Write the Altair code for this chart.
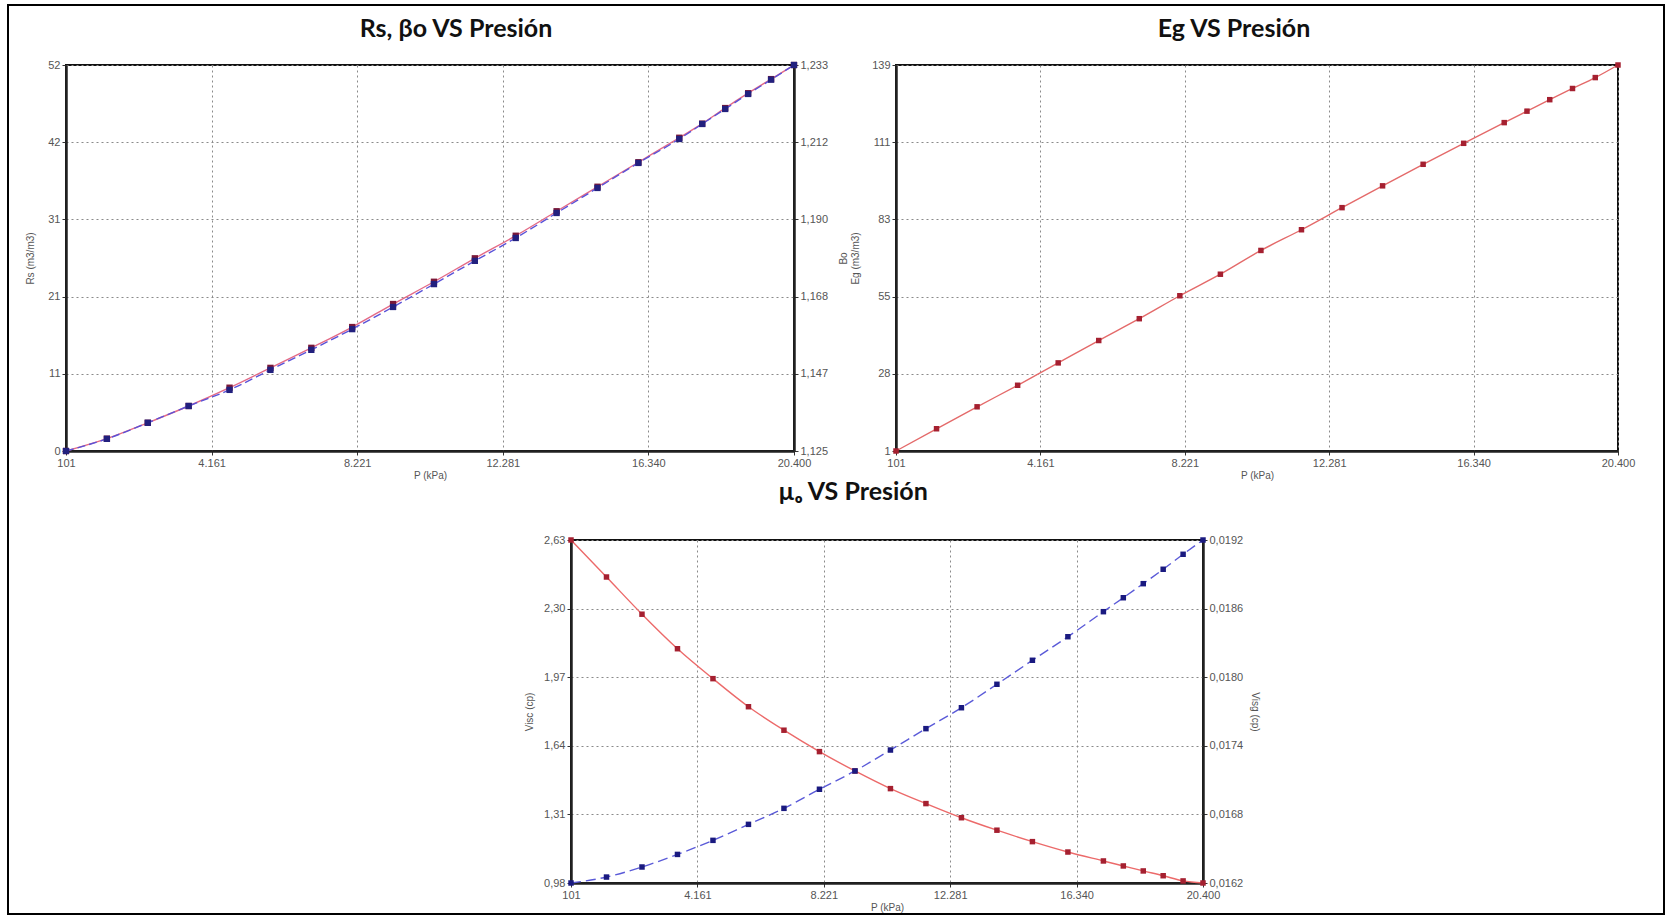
import json
import altair as alt
import pandas as pd

# ---------------- data ----------------
P = [101, 1241, 2381, 3521, 4661, 5801, 6941, 8081, 9221, 10361, 11501,
     12641, 13781, 14921, 16061, 17201, 17841, 18481, 19121, 19761, 20400]
Rs = [0, 1.66, 3.8, 6.06, 8.53, 11.2, 13.9, 16.7, 19.8, 22.8, 25.96,
      29.0, 32.3, 35.6, 38.9, 42.2, 44.1, 46.2, 48.2, 50.1, 52.0]
Bo = [1.125, 1.1284, 1.1329, 1.1376, 1.1421, 1.1477, 1.1533, 1.1591, 1.1653, 1.1717, 1.1782,
      1.1846, 1.1916, 1.1986, 1.2056, 1.2123, 1.2165, 1.2207, 1.2249, 1.2289, 1.233]
Eg = [1, 8.95, 16.8, 24.5, 32.5, 40.5, 48.3, 56.5, 64.2, 72.7, 80.1,
      88.0, 95.8, 103.5, 111.0, 118.4, 122.5, 126.6, 130.6, 134.5, 139]
Visc_o = [2.63, 2.452, 2.273, 2.107, 1.963, 1.828, 1.715, 1.612, 1.519, 1.434, 1.362,
          1.294, 1.234, 1.179, 1.129, 1.086, 1.062, 1.038, 1.015, 0.99, 0.98]
Visc_g = [0.0162, 0.016252, 0.01634, 0.01645, 0.016573, 0.016713, 0.016853, 0.01702, 0.01718,
          0.017363, 0.01755, 0.017733, 0.017938, 0.018148, 0.018354, 0.018573, 0.018695,
          0.018818, 0.018944, 0.019075, 0.0192]

X_TICKS = ['101', '4.161', '8.221', '12.281', '16.340', '20.400']
RS_TICKS = ['0', '11', '21', '31', '42', '52']
BO_TICKS = ['1,125', '1,147', '1,168', '1,190', '1,212', '1,233']
EG_TICKS = ['1', '28', '55', '83', '111', '139']
VO_TICKS = ['0,98', '1,31', '1,64', '1,97', '2,30', '2,63']
VG_TICKS = ['0,0162', '0,0168', '0,0174', '0,0180', '0,0186', '0,0192']

TITLES = ['Rs, βo VS Presión', 'Eg VS Presión', 'µₒ VS Presión']

df = pd.DataFrame({'P': P, 'Rs': Rs, 'Bo': Bo, 'Eg': Eg, 'Vo': Visc_o, 'Vg': Visc_g})

LABEL_FONT = 'Liberation Sans'
TITLE_FONT = 'Lato, Open Sans, DejaVu Sans'


def tick_setup(lo, hi, labels):
    step = (hi - lo) / (len(labels) - 1)
    values = [lo + step * k for k in range(len(labels))]
    expr = f"{json.dumps(labels)}[round((datum.value - ({lo})) / {step})]"
    return values, expr


def axis(lo, hi, labels, **kw):
    values, expr = tick_setup(lo, hi, labels)
    return alt.Axis(values=values, labelExpr=expr, labelFlush=False, labelOverlap=False, **kw)


def xenc():
    return alt.X('P:Q', scale=alt.Scale(domain=[101, 20400], nice=False, zero=False),
                 axis=axis(101, 20400, X_TICKS, title='P (kPa)', grid=True, titlePadding=2))


def yenc(field, lo, hi, labels, orient, title, grid, tpad):
    kw = dict(orient=orient, grid=grid, titlePadding=tpad)
    kw['title'] = title
    return alt.Y(f'{field}:Q', scale=alt.Scale(domain=[lo, hi], nice=False, zero=False),
                 axis=axis(lo, hi, labels, **kw))


def series(field, lo, hi, labels, orient, title, grid, tpad, line_color, pt_color,
           dash=None, pt_size=30):
    base = alt.Chart(df).encode(x=xenc(), y=yenc(field, lo, hi, labels, orient, title, grid, tpad))
    line_kw = dict(color=line_color, strokeWidth=1.4, interpolate='monotone')
    if dash:
        line_kw['strokeDash'] = dash
    line = base.mark_line(**line_kw)
    pts = base.mark_square(color=pt_color, size=pt_size, opacity=1)
    return alt.layer(line, pts)


def title(text, dx, offset):
    return alt.TitleParams(text=text, font=TITLE_FONT, fontSize=25, fontWeight='bold',
                           color='#111111', dx=dx, offset=offset, anchor='middle')


# Chart 1: Rs and Bo
c1 = alt.layer(
    series('Rs', 0, 52, RS_TICKS, 'left', 'Rs (m3/m3)', True, 12, '#e46a86', '#7a1838', pt_size=40),
    series('Bo', 1.125, 1.233, BO_TICKS, 'right', None, False, 8, '#5a52d8', '#22207e',
           dash=[8, 4], pt_size=40),
).resolve_scale(y='independent').properties(width=728, height=386, title=title(TITLES[0], 26, 17))

# Chart 2: Eg
c2 = series('Eg', 1, 139, EG_TICKS, 'left', ['Bo', 'Eg (m3/m3)'], True, 11, '#e46a6a', '#a52030') \
    .properties(width=722, height=386, title=title(TITLES[1], -23, 17))

# Chart 3: viscosities
c3 = alt.layer(
    series('Vo', 0.98, 2.63, VO_TICKS, 'left', 'Visc (cp)', True, 9, '#ec6a6a', '#a52030'),
    series('Vg', 0.0162, 0.0192, VG_TICKS, 'right', 'Visg (cp)', False, 7, '#5a5ad8', '#1a1a80',
           dash=[10, 5]),
).resolve_scale(y='independent').properties(width=632, height=343, title=title(TITLES[2], -34, 29))

# spacer that also carries the outer frame of the figure
frame = alt.Chart(pd.DataFrame({'a': [0]})).mark_rect(
    fillOpacity=0, stroke='black', strokeWidth=2
).encode(
    x=alt.value(-58), x2=alt.value(1598), y=alt.value(-535), y2=alt.value(374)
).properties(width=1, height=343, view=alt.ViewBackground(stroke='transparent'))

top = alt.hconcat(c1, c2, spacing=102, bounds='flush')
bottom = alt.hconcat(frame, c3, spacing=504, bounds='flush')

# nested concat groups count with no height in flush layout, so the spacing carries the row height
chart = alt.vconcat(top, bottom, spacing=386 + 89, bounds='flush').properties(
    padding={'left': 6, 'top': 3, 'right': 4, 'bottom': 2},
    background='white',
).configure_view(
    stroke='#111111', strokeWidth=2
).configure_axis(
    labelFont=LABEL_FONT, labelFontSize=11, labelColor='#555555', labelPadding=2,
    tickColor='#333333', tickSize=4, domainColor='#222222', domainWidth=2.5,
    gridColor='#8a8a8a', gridDash=[2, 3], gridWidth=1,
    titleFont=LABEL_FONT, titleFontSize=10, titleFontWeight='normal', titleColor='#555555',
)

chart.save('out.html', embed_options={'renderer': 'svg', 'actions': False})
